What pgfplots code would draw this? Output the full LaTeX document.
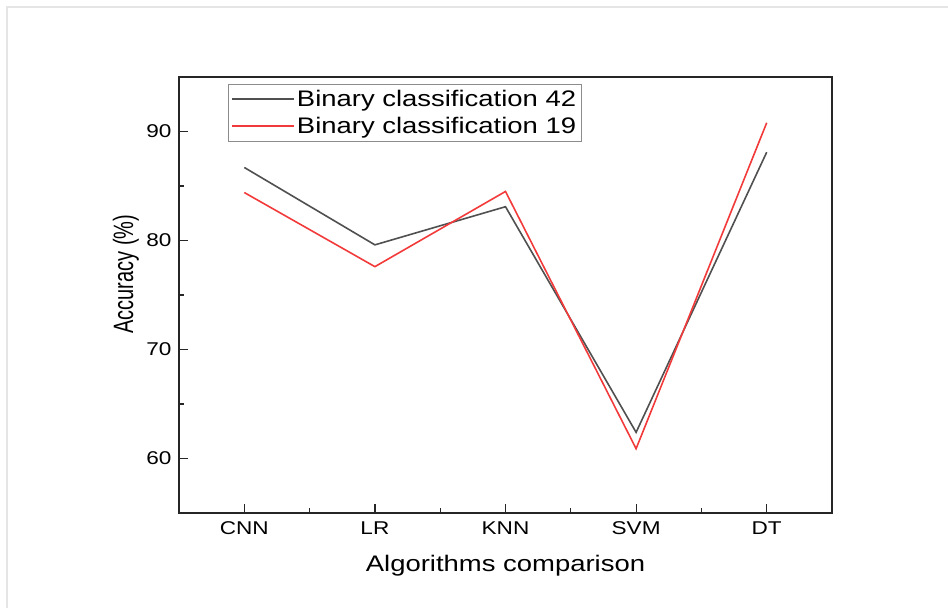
\documentclass[border=0pt]{standalone}
\usepackage{fontspec}
\setmainfont{Liberation Sans}[FakeStretch=1.22]
\newfontfamily\plainfont{Liberation Sans}
\usepackage{pgfplots}
\pgfplotsset{compat=1.18}
\definecolor{bcgray}{HTML}{505050}
\definecolor{bcred}{HTML}{F23A3A}

\begin{document}
\begin{tikzpicture}[x=1pt,y=1pt]
\path[use as bounding box] (0,0) rectangle (948,608);
% faint frame of the original figure
\draw[color=black!10, line width=1.5pt] (7,0) -- (7,601) -- (948,601);
\begin{axis}[
    at={(179pt,95pt)}, anchor=south west,
    scale only axis, width=653pt, height=436pt,
    xmin=-0.5, xmax=4.5, ymin=55, ymax=95,
    xtick={0,...,4}, xticklabels={CNN,LR,KNN,SVM,DT},
    minor xtick={0.5,1.5,2.5,3.5},
    ytick={60,70,80,90}, minor ytick={65,75,85},
    tick pos=left, tick align=inside,
    major tick length=9pt, minor tick length=5pt,
    axis line style={line width=1.5pt, black!85},
    every tick/.style={black!85, line width=1.2pt},
    tick label style={font=\fontsize{18.5}{20}\selectfont},
    xticklabel style={yshift=-5pt},
    yticklabel style={xshift=-4pt},
    /pgf/number format/assume math mode=true,
    xlabel={Algorithms comparison},
    xlabel style={font=\fontsize{22.5}{24}\selectfont, at={(axis description cs:0.5,-0.135)}, anchor=base},
    ylabel={\scalebox{1}[1.4]{\plainfont\fontsize{20}{22}\selectfont Accuracy (\%)}},
    ylabel style={at={(axis description cs:-0.0704,0.548)}, anchor=base, rotate=0},
    legend cell align=left,
    legend style={at={(axis description cs:0.075,0.984)}, anchor=north west,
      draw=black!45, line width=0.8pt, fill=white,
      font=\fontsize{22.5}{24}\selectfont,
      inner xsep=3pt, inner ysep=4pt, row sep=5pt},
    legend image code/.code={\draw[#1] (0pt,0pt) -- (62pt,0pt);},
]
\addplot[color=bcgray, line width=1.6pt] coordinates {(0,86.7) (1,79.6) (2,83.1) (3,62.4) (4,88.1)};
\addlegendentry{Binary classification 42}
\addplot[color=bcred, line width=1.6pt] coordinates {(0,84.4) (1,77.6) (2,84.5) (3,60.9) (4,90.8)};
\addlegendentry{Binary classification 19}
\end{axis}
\end{tikzpicture}
\end{document}
